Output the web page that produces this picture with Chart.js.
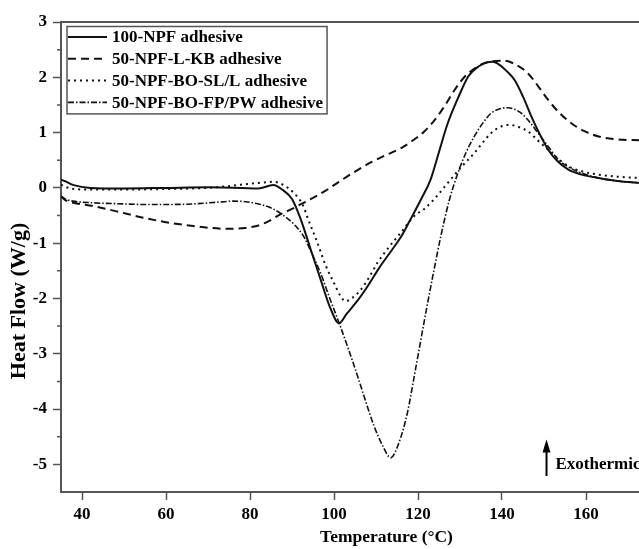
<!DOCTYPE html>
<html>
<head>
<meta charset="utf-8">
<script src="https://cdn.jsdelivr.net/npm/chart.js@4.4.1/dist/chart.umd.min.js"></script>
<style>
  html, body { margin: 0; padding: 0; background: #fff; overflow: hidden; }
  #wrap { position: relative; width: 720px; height: 549px; }
</style>
</head>
<body>
<div id="wrap"><canvas id="dscChart"></canvas></div>
<script>
// Series names (legend order)
const seriesLabels = ['100-NPF adhesive', '50-NPF-L-KB adhesive', '50-NPF-BO-SL/L adhesive', '50-NPF-BO-FP/PW adhesive'];

// 100-NPF adhesive
const tempNPF = [35, 36, 38, 42, 50, 60, 70, 78, 82, 85.5, 88, 90, 92, 94.4, 97, 99, 101.2, 103, 106, 108, 111, 114, 116, 118, 120.7, 123, 125, 127, 129.5, 132, 134.5, 136.5, 137.8, 139.5, 141, 143, 145, 147, 149, 151, 153, 155.8, 159, 163, 168, 173, 180, 190];
const heatNPF = [0.15, 0.12, 0.05, 0.0, -0.01, 0.0, 0.01, 0.0, -0.01, 0.05, -0.05, -0.2, -0.55, -1.1, -1.7, -2.15, -2.45, -2.28, -2.0, -1.78, -1.42, -1.1, -0.88, -0.6, -0.21, 0.15, 0.65, 1.15, 1.62, 2.02, 2.2, 2.27, 2.28, 2.22, 2.12, 1.95, 1.65, 1.29, 0.97, 0.69, 0.5, 0.33, 0.24, 0.18, 0.12, 0.09, 0.07, 0.05];

// 50-NPF-L-KB adhesive
const tempLKB = [35, 36, 38, 42.6, 48, 54.6, 60, 66.5, 70, 74.5, 78, 81, 84, 87.2, 90, 92, 95, 98, 100, 103, 106, 109, 112, 116, 119, 121.5, 124, 126.5, 128.7, 131, 134.3, 137.5, 140.6, 143.5, 146.2, 148.5, 151, 153.5, 156.5, 159.5, 163, 167, 173, 180, 190];
const heatLKB = [-0.15, -0.22, -0.27, -0.33, -0.42, -0.54, -0.62, -0.69, -0.72, -0.74, -0.73, -0.70, -0.62, -0.48, -0.38, -0.30, -0.18, -0.05, 0.05, 0.2, 0.34, 0.47, 0.58, 0.72, 0.87, 1.02, 1.23, 1.5, 1.77, 2.0, 2.2, 2.29, 2.3, 2.22, 2.07, 1.85, 1.59, 1.37, 1.17, 1.03, 0.93, 0.88, 0.86, 0.84, 0.82];

// 50-NPF-BO-SL/L adhesive
const tempSLL = [35, 36, 38, 42.6, 50, 60, 70, 76, 79.3, 82, 85.6, 88, 90.4, 92.5, 94, 96, 98, 100, 101.5, 102.8, 104.5, 106.4, 108.5, 110.3, 113, 115.9, 119.1, 121.5, 123.9, 127.1, 130, 133.4, 137.4, 139.5, 141.8, 144, 146.2, 148.5, 151, 153.5, 155.8, 159, 162.9, 168, 173, 180, 190];
const heatSLL = [0.06, 0.02, -0.02, -0.03, -0.03, -0.02, 0.0, 0.04, 0.07, 0.09, 0.11, 0.05, -0.09, -0.3, -0.6, -0.98, -1.4, -1.72, -1.95, -2.05, -1.98, -1.84, -1.6, -1.36, -1.08, -0.81, -0.51, -0.38, -0.2, 0.09, 0.35, 0.63, 0.99, 1.1, 1.14, 1.1, 1.02, 0.86, 0.69, 0.52, 0.39, 0.3, 0.24, 0.2, 0.18, 0.16, 0.14];

// 50-NPF-BO-FP/PW adhesive
const tempFPPW = [35, 36, 37.8, 42.6, 50, 54.6, 60, 66.5, 72, 76.1, 79, 82.5, 85.5, 88, 90.5, 92.8, 94.5, 96.8, 99, 101.2, 103.5, 105.6, 107.5, 109.5, 111.5, 113.5, 115.5, 117.5, 119, 120.7, 122.3, 123.9, 125.5, 127.5, 129.5, 131.5, 133.4, 135.5, 137.4, 139.5, 141.4, 143, 144.6, 146.5, 148.6, 151, 153.4, 156, 158.9, 163, 168, 173, 180, 190];
const heatFPPW = [-0.15, -0.2, -0.24, -0.27, -0.29, -0.30, -0.30, -0.29, -0.26, -0.24, -0.25, -0.30, -0.38, -0.5, -0.66, -0.88, -1.15, -1.54, -2.0, -2.44, -2.93, -3.40, -3.85, -4.30, -4.65, -4.88, -4.6, -4.06, -3.45, -2.74, -2.08, -1.45, -0.85, -0.21, 0.27, 0.65, 0.93, 1.18, 1.35, 1.43, 1.45, 1.42, 1.35, 1.2, 0.99, 0.75, 0.51, 0.37, 0.27, 0.18, 0.12, 0.09, 0.07, 0.05];

// Axis ranges / ticks
const xRange = [35, 190];
const yRange = [-5.5, 3];
const xStep = 20;
const yStep = 1;

// Annotation text
const xTitle = 'Temperature (\u00B0C)';
const yTitle = 'Heat Flow (W/g)';
const arrowNote = 'Exothermic';

const serif = "'Liberation Serif', 'Times New Roman', serif";
const axisGray = '#555';

const toPoints = (xs, ys) => xs.map((t, i) => ({ x: t, y: ys[i] }));

// Line styles per series
const lineStyles = [
  { dash: [], width: 2 },
  { dash: [8, 5], width: 2 },
  { dash: [2, 4], width: 2 },
  { dash: [6, 2, 1.5, 2], width: 1.6 }
];
const seriesData = [
  toPoints(tempNPF, heatNPF),
  toPoints(tempLKB, heatLKB),
  toPoints(tempSLL, heatSLL),
  toPoints(tempFPPW, heatFPPW)
];

// Extra drawing: frame top, minor ticks, legend box, y title, exotherm arrow
const decorPlugin = {
  id: 'dscDecor',
  afterDraw(chart) {
    const { ctx, chartArea, scales } = chart;
    const xs = scales.x, ys = scales.y;
    ctx.save();

    // top frame line
    ctx.strokeStyle = axisGray;
    ctx.lineWidth = 2;
    ctx.beginPath();
    ctx.moveTo(chartArea.left - 1, chartArea.top);
    ctx.lineTo(chartArea.right, chartArea.top);
    ctx.stroke();

    // minor ticks halfway between major ones
    ctx.lineWidth = 1.5;
    ctx.beginPath();
    for (let v = xRange[0]; v <= xRange[1]; v += xStep / 2) {
      if (v % (xStep / 2) !== 0 || v % xStep === 0) continue;
      const px = xs.getPixelForValue(v);
      ctx.moveTo(px, chartArea.bottom);
      ctx.lineTo(px, chartArea.bottom + 4);
    }
    for (let v = Math.ceil(yRange[0]); v < yRange[1]; v += yStep) {
      const py = ys.getPixelForValue(v + yStep / 2);
      ctx.moveTo(chartArea.left, py);
      ctx.lineTo(chartArea.left - 4, py);
    }
    ctx.stroke();

    // legend
    ctx.font = 'bold 17px ' + serif;
    ctx.textBaseline = 'middle';
    ctx.fillStyle = '#000';
    const legLeft = chartArea.left + 7;
    const rowTop = chartArea.top + 15;
    const rowGap = 21.8;
    let maxW = 0;
    chart.data.datasets.forEach((ds, i) => {
      const y = rowTop + i * rowGap;
      ctx.strokeStyle = ds.borderColor;
      ctx.lineWidth = ds.borderWidth;
      ctx.setLineDash(ds.borderDash || []);
      ctx.beginPath();
      ctx.moveTo(legLeft, y);
      ctx.lineTo(legLeft + 39, y);
      ctx.stroke();
      ctx.setLineDash([]);
      ctx.fillText(ds.label, legLeft + 44, y + 1);
      maxW = Math.max(maxW, ctx.measureText(ds.label).width);
    });
    ctx.strokeStyle = axisGray;
    ctx.lineWidth = 1.5;
    ctx.strokeRect(legLeft - 1, chartArea.top + 4.5, maxW + 44 + 5, rowGap * 3 + 22);

    // y axis title
    ctx.save();
    ctx.translate(19, 301);
    ctx.rotate(-Math.PI / 2);
    ctx.textAlign = 'center';
    ctx.font = 'bold 22px ' + serif;
    ctx.fillText(yTitle, 0, 0);
    ctx.restore();

    // exotherm arrow
    const ax = xs.getPixelForValue(150.6);
    const aTop = ys.getPixelForValue(-4.55);
    const aBot = ys.getPixelForValue(-5.21);
    ctx.strokeStyle = '#000';
    ctx.fillStyle = '#000';
    ctx.lineWidth = 2;
    ctx.beginPath();
    ctx.moveTo(ax, aBot);
    ctx.lineTo(ax, aTop + 10);
    ctx.stroke();
    ctx.beginPath();
    ctx.moveTo(ax, aTop);
    ctx.lineTo(ax - 4, aTop + 13);
    ctx.lineTo(ax + 4, aTop + 13);
    ctx.closePath();
    ctx.fill();
    ctx.font = 'bold 17px ' + serif;
    ctx.textAlign = 'left';
    ctx.fillText(arrowNote, ax + 9, ys.getPixelForValue(-5.0));

    ctx.restore();
  }
};

const ctx = document.getElementById('dscChart').getContext('2d');
new Chart(ctx, {
  type: 'line',
  data: {
    datasets: seriesLabels.map((label, i) => ({
      label,
      data: seriesData[i],
      borderColor: '#111',
      backgroundColor: '#111',
      borderWidth: lineStyles[i].width,
      borderDash: lineStyles[i].dash,
      pointRadius: 0,
      fill: false,
      cubicInterpolationMode: 'monotone'
    }))
  },
  options: {
    responsive: true,
    maintainAspectRatio: false,
    animation: false,
    layout: { padding: { top: 22, right: 8, left: 0, bottom: 0 } },
    plugins: {
      legend: { display: false },
      tooltip: { enabled: false }
    },
    scales: {
      x: {
        type: 'linear',
        min: xRange[0],
        max: xRange[1],
        ticks: {
          stepSize: xStep,
          includeBounds: false,
          color: '#000',
          padding: 4,
          maxRotation: 0,
          font: { family: serif, size: 17, weight: 'bold' }
        },
        grid: { drawOnChartArea: false, drawTicks: true, tickLength: 8, tickColor: axisGray, tickWidth: 1.5 },
        border: { display: true, color: axisGray, width: 2 },
        title: {
          display: true,
          text: xTitle,
          color: '#000',
          font: { family: serif, size: 17.5, weight: 'bold' },
          padding: { top: 0, bottom: 1 }
        },
        afterFit: (scale) => { scale.height = 57; }
      },
      y: {
        min: yRange[0],
        max: yRange[1],
        ticks: {
          stepSize: yStep,
          includeBounds: false,
          color: '#000',
          padding: 6,
          font: { family: serif, size: 17, weight: 'bold' }
        },
        grid: { drawOnChartArea: false, drawTicks: true, tickLength: 8, tickColor: axisGray, tickWidth: 1.5 },
        border: { display: true, color: axisGray, width: 2 },
        afterFit: (scale) => { scale.width = 61; }
      }
    }
  },
  plugins: [decorPlugin]
});
</script>
</body>
</html>
